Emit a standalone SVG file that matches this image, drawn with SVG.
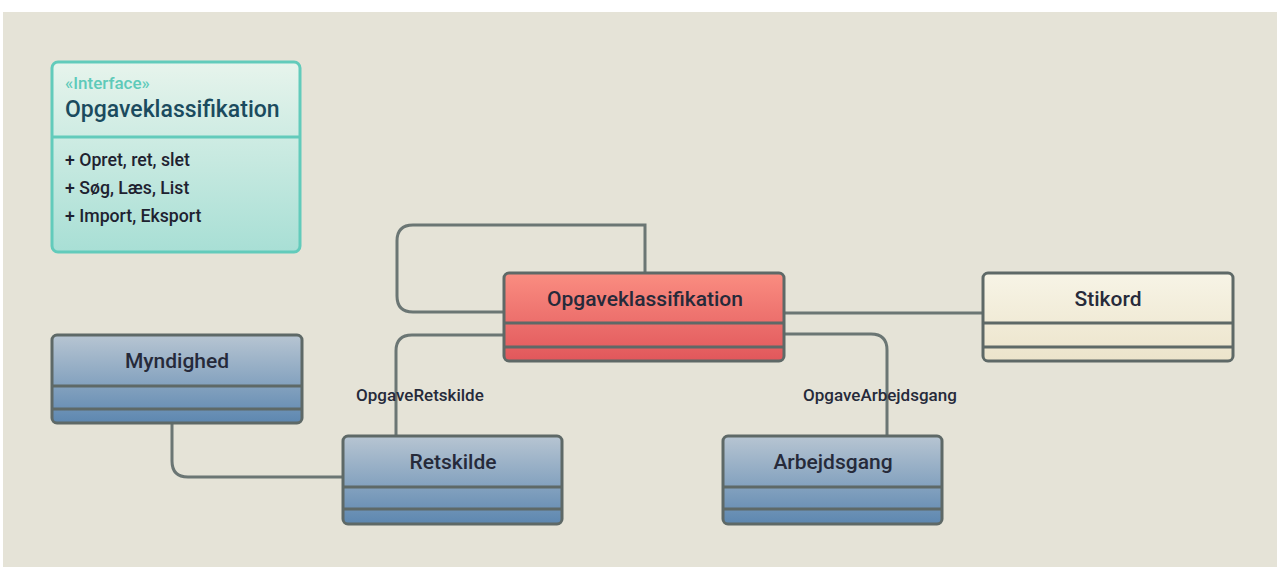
<svg xmlns="http://www.w3.org/2000/svg" width="1277" height="567" viewBox="0 0 1277 567">
  <defs>
    <linearGradient id="gInterface" x1="0" y1="0" x2="0" y2="1">
      <stop offset="0" stop-color="#e7f4ec"/>
      <stop offset="1" stop-color="#a8dfd5"/>
    </linearGradient>
    <linearGradient id="gRed" x1="0" y1="0" x2="0" y2="1">
      <stop offset="0" stop-color="#fa8d81"/>
      <stop offset="1" stop-color="#e1575b"/>
    </linearGradient>
    <linearGradient id="gCream" x1="0" y1="0" x2="0" y2="1">
      <stop offset="0" stop-color="#f7f4e6"/>
      <stop offset="1" stop-color="#ece4cb"/>
    </linearGradient>
    <linearGradient id="gBlue" x1="0" y1="0" x2="0" y2="1">
      <stop offset="0" stop-color="#b7c5d2"/>
      <stop offset="1" stop-color="#5d87b0"/>
    </linearGradient>
  </defs>
  <style>
    text { font-family: Roboto, "Noto Sans", "Liberation Sans", sans-serif; font-weight: 500; }
    .box { stroke: #5e6967; stroke-width: 3; }
    .sep { stroke: #5e6967; stroke-width: 3; }
    .title { font-size: 21px; fill: #262a3a; text-anchor: middle; }
    .edge { fill: none; stroke: #6b7674; stroke-width: 3; }
    .elabel { font-size: 17px; fill: #262a3a; }
    .member { font-size: 17.7px; fill: #1e2230; }
  </style>

  <rect x="0" y="0" width="1277" height="567" fill="#ffffff"/>
  <rect x="3" y="12" width="1274" height="555" fill="#e5e3d7"/>

  <!-- connectors -->
  <g id="connectors">
    <path class="edge" d="M 504 312 H 413 Q 397 312 397 296 V 241 Q 397 225 413 225 H 645 V 273"/>
    <path class="edge" d="M 784 313 H 983"/>
    <path class="edge" d="M 504 335 H 412 Q 396 335 396 351 V 436"/>
    <path class="edge" d="M 784 334 H 871 Q 887 334 887 350 V 436"/>
    <path class="edge" d="M 172 423 V 461 Q 172 477 188 477 H 343"/>
    <text class="elabel" x="356" y="401">OpgaveRetskilde</text>
    <text class="elabel" x="803" y="401">OpgaveArbejdsgang</text>
  </g>

  <!-- interface -->
  <g id="iface">
    <rect x="52" y="62" width="248" height="190" rx="6" fill="url(#gInterface)" stroke="#62cbbb" stroke-width="3"/>
    <line x1="52" y1="137" x2="300" y2="137" stroke="#62cbbb" stroke-width="3"/>
    <text x="65" y="89" font-size="17" fill="#5ecab9">«Interface»</text>
    <text x="65" y="117" font-size="23" fill="#1b4b5e">Opgaveklassifikation</text>
    <text class="member" x="65" y="166">+ Opret, ret, slet</text>
    <text class="member" x="65" y="194">+ Søg, Læs, List</text>
    <text class="member" x="65" y="222">+ Import, Eksport</text>
  </g>

  <!-- classes -->
  <g id="opgaveklassifikation">
    <rect class="box" x="504" y="273" width="280" height="88" rx="5" fill="url(#gRed)"/>
    <line class="sep" x1="504" y1="323" x2="784" y2="323"/>
    <line class="sep" x1="504" y1="347" x2="784" y2="347"/>
    <text class="title" x="645" y="306">Opgaveklassifikation</text>
  </g>

  <g id="stikord">
    <rect class="box" x="983" y="273" width="250" height="88" rx="5" fill="url(#gCream)"/>
    <line class="sep" x1="983" y1="323" x2="1233" y2="323"/>
    <line class="sep" x1="983" y1="347" x2="1233" y2="347"/>
    <text class="title" x="1108" y="306">Stikord</text>
  </g>

  <g id="myndighed">
    <rect class="box" x="52" y="335" width="250" height="88" rx="5" fill="url(#gBlue)"/>
    <line class="sep" x1="52" y1="386" x2="302" y2="386"/>
    <line class="sep" x1="52" y1="409" x2="302" y2="409"/>
    <text class="title" x="177" y="368">Myndighed</text>
  </g>

  <g id="retskilde">
    <rect class="box" x="343" y="436" width="219" height="88" rx="5" fill="url(#gBlue)"/>
    <line class="sep" x1="343" y1="487" x2="562" y2="487"/>
    <line class="sep" x1="343" y1="509" x2="562" y2="509"/>
    <text class="title" x="453" y="469">Retskilde</text>
  </g>

  <g id="arbejdsgang">
    <rect class="box" x="723" y="436" width="219" height="88" rx="5" fill="url(#gBlue)"/>
    <line class="sep" x1="723" y1="487" x2="942" y2="487"/>
    <line class="sep" x1="723" y1="509" x2="942" y2="509"/>
    <text class="title" x="833" y="469">Arbejdsgang</text>
  </g>
</svg>
